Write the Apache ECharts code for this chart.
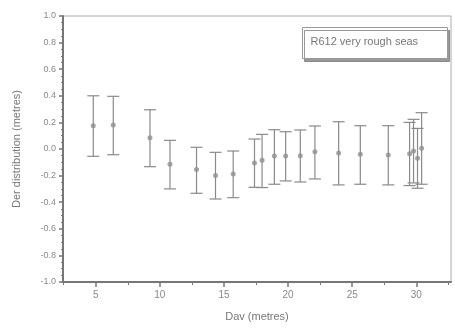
<!DOCTYPE html>
<html>
<head>
<meta charset="utf-8">
<script src="https://cdn.jsdelivr.net/npm/echarts@6/dist/echarts.min.js"></script>
<style>
  html, body { margin: 0; padding: 0; background: #fff; }
  #chart { width: 455px; height: 331px; }
</style>
</head>
<body>
<div id="chart"></div>
<script>
// Dav (metres) for each measurement
const davValues = [4.81, 6.37, 9.23, 10.79, 12.86, 14.34, 15.72, 17.38, 17.97, 18.93, 19.81, 20.95, 22.09, 23.94, 25.63, 27.81, 29.47, 29.78, 30.09, 30.41];
// mean of the Der distribution
const meanValues = [0.175, 0.18, 0.085, -0.115, -0.155, -0.2, -0.188, -0.105, -0.085, -0.053, -0.053, -0.05, -0.02, -0.03, -0.04, -0.045, -0.035, -0.015, -0.07, 0.005];
// upper and lower end of each error bar
const upperValues = [0.4, 0.396, 0.295, 0.065, 0.013, -0.025, -0.015, 0.075, 0.11, 0.145, 0.13, 0.143, 0.173, 0.205, 0.175, 0.175, 0.2, 0.223, 0.155, 0.273];
const lowerValues = [-0.055, -0.043, -0.133, -0.3, -0.333, -0.376, -0.366, -0.288, -0.29, -0.265, -0.24, -0.248, -0.225, -0.27, -0.265, -0.27, -0.275, -0.255, -0.295, -0.265];
const xMajorTicks = [5, 10, 15, 20, 25, 30];
const xMinorTicks = [2.5, 7.5, 12.5, 17.5, 22.5, 27.5, 32.5];
const legendText = "R612 very rough seas";

const chart = echarts.init(document.getElementById("chart"));

const errorData = davValues.map((x, i) => [x, lowerValues[i], upperValues[i]]);
const pointData = davValues.map((x, i) => [x, meanValues[i]]);

const grey = "#8a8a8a";
const axisGrey = "#777";
const fontFamily = "Liberation Sans, Arial, sans-serif";

const option = {
  animation: false,
  backgroundColor: "#fff",
  grid: {
    left: 63, right: 4, top: 16, bottom: 49,
    show: true, borderColor: "#aaa", borderWidth: 1
  },
  xAxis: [
    {
      type: "value", min: 2.45, max: 32.7,
      name: "Dav (metres)", nameLocation: "middle", nameGap: 29,
      nameTextStyle: { color: "#777", fontSize: 11, fontFamily },
      axisLine: { show: true, onZero: false, lineStyle: { color: axisGrey, width: 2 } },
      axisTick: { show: true, customValues: xMajorTicks, length: 5, lineStyle: { color: axisGrey, width: 1.5 } },
      axisLabel: { customValues: xMajorTicks, color: "#888", fontSize: 10, fontFamily, margin: 8 },
      splitLine: { show: false }
    },
    {
      type: "value", min: 2.45, max: 32.7, position: "bottom",
      axisLine: { show: false, onZero: false },
      axisTick: { show: true, customValues: xMinorTicks, length: 3, lineStyle: { color: axisGrey } },
      axisLabel: { show: false },
      splitLine: { show: false }
    }
  ],
  yAxis: {
    type: "value", min: -1, max: 1, interval: 0.2,
    name: "Der distribution (metres)", nameLocation: "middle", nameGap: 41,
    nameTextStyle: { color: "#777", fontSize: 11, fontFamily },
    axisLine: { show: true, onZero: false, lineStyle: { color: axisGrey, width: 2 } },
    axisTick: { show: true, length: 4, lineStyle: { color: axisGrey, width: 1.5 } },
    minorTick: { show: true, splitNumber: 4, length: 2, lineStyle: { color: axisGrey } },
    axisLabel: {
      color: "#888", fontSize: 9, fontFamily, margin: 7,
      formatter: v => v.toFixed(1)
    },
    splitLine: { show: false }
  },
  graphic: [
    {
      type: "group", left: 302, top: 27,
      children: [
        {
          type: "rect", shape: { x: 0, y: 0, width: 145, height: 31 },
          style: { fill: "#fff", stroke: "#999", lineWidth: 1, shadowColor: "rgba(110,110,110,0.7)", shadowOffsetX: 2, shadowOffsetY: 3 }
        },
        {
          type: "text", x: 8, y: 9,
          style: { text: legendText, fill: "#777", fontSize: 11, fontFamily }
        }
      ]
    }
  ],
  series: [
    {
      type: "custom",
      xAxisIndex: 0,
      data: errorData,
      renderItem: function (params, api) {
        const x = api.value(0);
        const lo = api.coord([x, api.value(1)]);
        const hi = api.coord([x, api.value(2)]);
        const half = 6;
        const style = { stroke: grey, lineWidth: 1.2 };
        return {
          type: "group",
          children: [
            { type: "line", shape: { x1: hi[0], y1: hi[1], x2: lo[0], y2: lo[1] }, style },
            { type: "line", shape: { x1: hi[0] - half, y1: hi[1], x2: hi[0] + half, y2: hi[1] }, style },
            { type: "line", shape: { x1: lo[0] - half, y1: lo[1], x2: lo[0] + half, y2: lo[1] }, style }
          ]
        };
      },
      z: 2
    },
    {
      type: "scatter",
      xAxisIndex: 0,
      data: pointData,
      symbol: "circle",
      symbolSize: 5,
      itemStyle: { color: "#8f8f8f" },
      z: 3
    }
  ]
};

chart.setOption(option);
</script>
</body>
</html>
